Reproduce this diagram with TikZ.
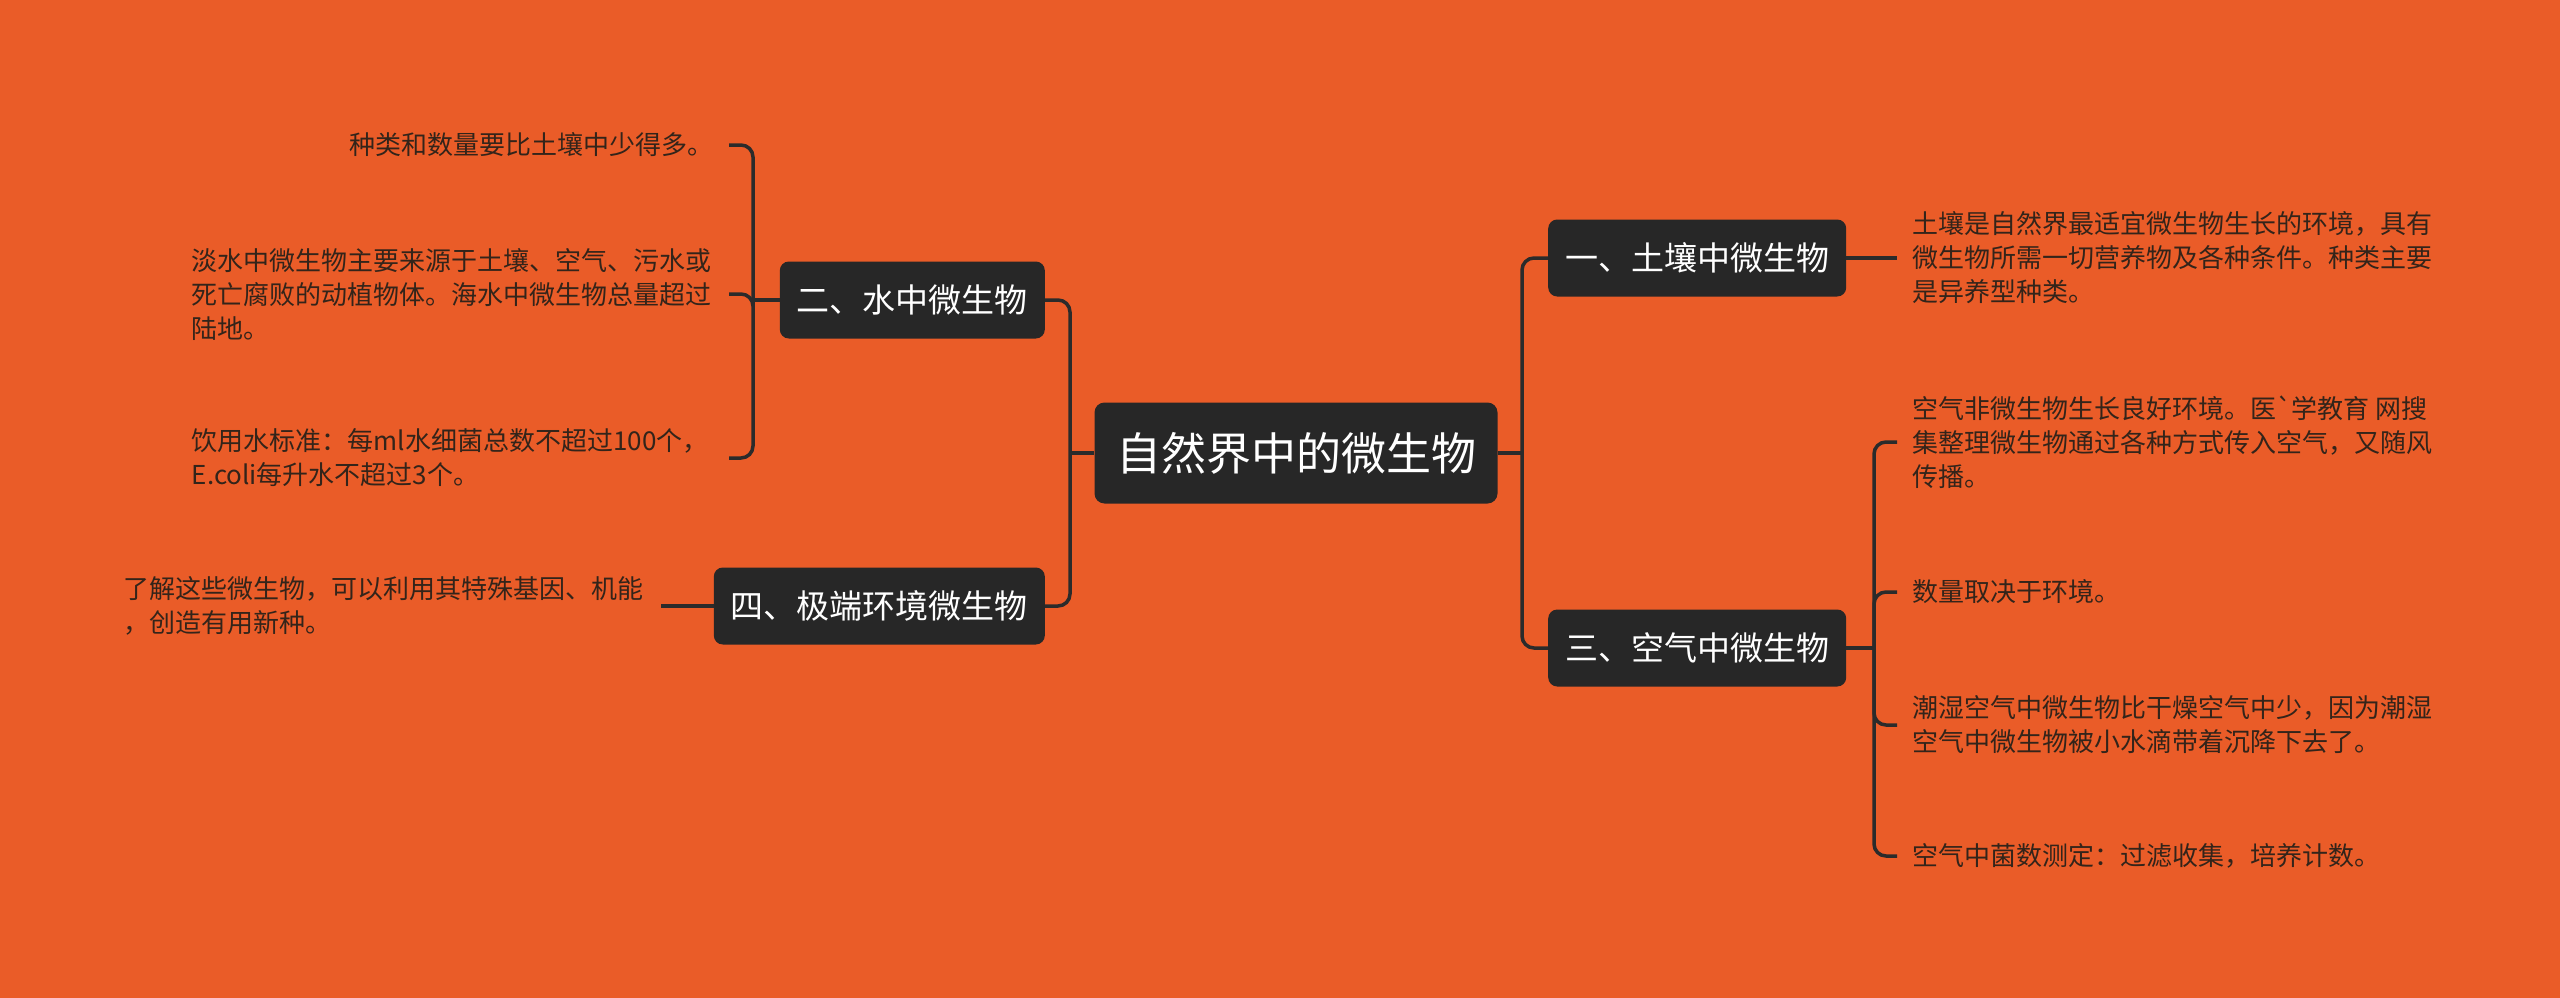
\documentclass[tikz,border=0pt]{standalone}
\usepackage{fontspec}
\setmainfont{Noto Sans CJK SC}
\definecolor{bg}{HTML}{EA5C28}
\definecolor{nodefill}{HTML}{272727}
\definecolor{linec}{HTML}{2B2B2B}
\definecolor{leaftext}{HTML}{33241A}
\begin{document}
\begin{tikzpicture}[x=1pt,y=-1pt,
  conn/.style={draw=linec,line width=3.5pt,rounded corners=12pt},
  root/.style={fill=nodefill,text=white,rounded corners=10pt,minimum width=403pt,minimum height=101pt,font=\fontsize{45}{54}\selectfont,inner sep=0pt},
  branch/.style={fill=nodefill,text=white,rounded corners=9pt,minimum height=77pt,inner xsep=17pt,font=\fontsize{33}{40}\selectfont},
  leaf/.style={text=leaftext,font=\fontsize{26}{34}\selectfont,inner xsep=15pt,inner ysep=0pt,align=left},
]
\fill[bg] (0,0) rectangle (2560,998);
\useasboundingbox (0,0) rectangle (2560,998);

\node[root] (root) at (1296,453) {自然界中的微生物};
\node[branch,anchor=west] (b1) at (1548,258) {一、土壤中微生物};
\node[branch,anchor=west] (b3) at (1548,648) {三、空气中微生物};
\node[branch,anchor=east] (b2) at (1045,300) {二、水中微生物};
\node[branch,anchor=east] (b4) at (1045,606) {四、极端环境微生物};

\node[leaf,anchor=west] (l1) at (1897,258) {土壤是自然界最适宜微生物生长的环境，具有\\微生物所需一切营养物及各种条件。种类主要\\是异养型种类。};
\node[leaf,anchor=west] (l31) at (1897,442) {空气非微生物生长良好环境。医\textasciigrave 学教育 网搜\\集整理微生物通过各种方式传入空气，又随风\\传播。};
\node[leaf,anchor=west] (l32) at (1897,592) {数量取决于环境。};
\node[leaf,anchor=west] (l33) at (1897,725) {潮湿空气中微生物比干燥空气中少，因为潮湿\\空气中微生物被小水滴带着沉降下去了。};
\node[leaf,anchor=west] (l34) at (1897,856) {空气中菌数测定：过滤收集，培养计数。};

\node[leaf,anchor=east] (l21) at (729,145) {种类和数量要比土壤中少得多。};
\node[leaf,anchor=east,text width=522pt] (l22) at (729,294) {淡水中微生物主要来源于土壤、空气、污水或\\死亡腐败的动植物体。海水中微生物总量超过\\陆地。};
\node[leaf,anchor=east,text width=522pt] (l23) at (729,458) {饮用水标准：每ml水细菌总数不超过100个，\\E.coli每升水不超过3个。};
\node[leaf,anchor=east,text width=522pt] (l4) at (661,606) {了解这些微生物，可以利用其特殊基因、机能\\，创造有用新种。};

\coordinate (jl) at (1070,453);
\coordinate (jr) at (1522,453);
\coordinate (j2) at (753,300);
\coordinate (j3) at (1874,648);

\draw[conn] (root.west) -- (jl);
\draw[conn] (b2.east) -| (jl) |- (b4.east);
\draw[conn] (root.east) -- (jr);
\draw[conn] (b1.west) -| (jr) |- (b3.west);
\draw[conn] (b2.west) -- (j2);
\draw[conn] (l21.east) -| (j2) |- (l23.east);
\draw[conn] (l22.east) -| (j2);
\draw[conn] (b4.west) -- (l4.east);
\draw[conn] (b1.east) -- (l1.west);
\draw[conn] (b3.east) -- (j3);
\draw[conn] (l31.west) -| (j3) |- (l34.west);
\draw[conn] (l32.west) -| (j3);
\draw[conn] (l33.west) -| (j3);
\end{tikzpicture}
\end{document}
